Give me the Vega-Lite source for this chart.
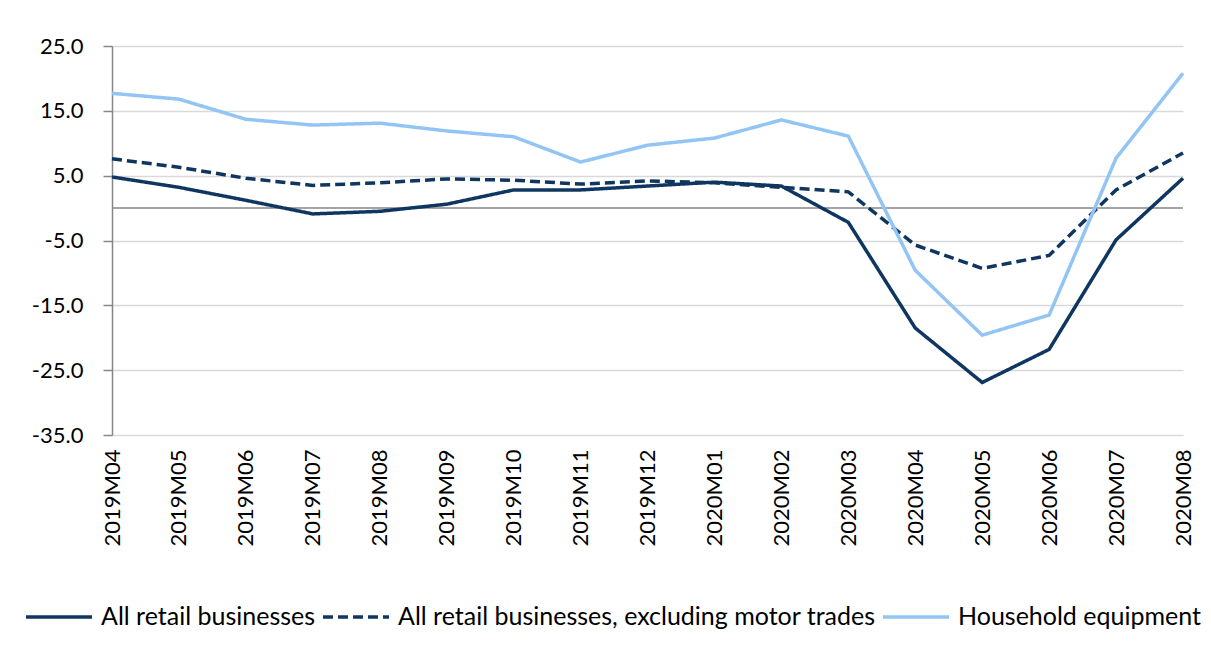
{
  "$schema": "https://vega.github.io/schema/vega-lite/v6.json",
  "width": 1071,
  "height": 389,
  "autosize": "none",
  "padding": {"left": 112, "top": 46, "right": 28, "bottom": 216},
  "background": "white",
  "config": {
    "view": {"stroke": null},
    "font": "Lato",
    "axis": {"labelFont": "Lato", "labelColor": "#000000", "labelFontSize": 22, "titleFont": "Lato"},
    "legend": {"labelFont": "Lato", "labelFontSize": 25, "labelColor": "#000000"}
  },
  "datasets": {
    "series": [
      {"month": "2019M04", "series": "All retail businesses", "value": 4.8},
      {"month": "2019M05", "series": "All retail businesses", "value": 3.2},
      {"month": "2019M06", "series": "All retail businesses", "value": 1.2},
      {"month": "2019M07", "series": "All retail businesses", "value": -0.9},
      {"month": "2019M08", "series": "All retail businesses", "value": -0.5},
      {"month": "2019M09", "series": "All retail businesses", "value": 0.6},
      {"month": "2019M10", "series": "All retail businesses", "value": 2.8},
      {"month": "2019M11", "series": "All retail businesses", "value": 2.8},
      {"month": "2019M12", "series": "All retail businesses", "value": 3.4},
      {"month": "2020M01", "series": "All retail businesses", "value": 4.0},
      {"month": "2020M02", "series": "All retail businesses", "value": 3.4},
      {"month": "2020M03", "series": "All retail businesses", "value": -2.2},
      {"month": "2020M04", "series": "All retail businesses", "value": -18.5},
      {"month": "2020M05", "series": "All retail businesses", "value": -26.9},
      {"month": "2020M06", "series": "All retail businesses", "value": -21.8},
      {"month": "2020M07", "series": "All retail businesses", "value": -4.9},
      {"month": "2020M08", "series": "All retail businesses", "value": 4.6},
      {"month": "2019M04", "series": "All retail businesses, excluding motor trades", "value": 7.6},
      {"month": "2019M05", "series": "All retail businesses, excluding motor trades", "value": 6.3},
      {"month": "2019M06", "series": "All retail businesses, excluding motor trades", "value": 4.6},
      {"month": "2019M07", "series": "All retail businesses, excluding motor trades", "value": 3.5},
      {"month": "2019M08", "series": "All retail businesses, excluding motor trades", "value": 3.9},
      {"month": "2019M09", "series": "All retail businesses, excluding motor trades", "value": 4.5},
      {"month": "2019M10", "series": "All retail businesses, excluding motor trades", "value": 4.3},
      {"month": "2019M11", "series": "All retail businesses, excluding motor trades", "value": 3.7},
      {"month": "2019M12", "series": "All retail businesses, excluding motor trades", "value": 4.2},
      {"month": "2020M01", "series": "All retail businesses, excluding motor trades", "value": 3.9},
      {"month": "2020M02", "series": "All retail businesses, excluding motor trades", "value": 3.2},
      {"month": "2020M03", "series": "All retail businesses, excluding motor trades", "value": 2.5},
      {"month": "2020M04", "series": "All retail businesses, excluding motor trades", "value": -5.7},
      {"month": "2020M05", "series": "All retail businesses, excluding motor trades", "value": -9.3},
      {"month": "2020M06", "series": "All retail businesses, excluding motor trades", "value": -7.3},
      {"month": "2020M07", "series": "All retail businesses, excluding motor trades", "value": 2.8},
      {"month": "2020M08", "series": "All retail businesses, excluding motor trades", "value": 8.5},
      {"month": "2019M04", "series": "Household equipment", "value": 17.7},
      {"month": "2019M05", "series": "Household equipment", "value": 16.8},
      {"month": "2019M06", "series": "Household equipment", "value": 13.7},
      {"month": "2019M07", "series": "Household equipment", "value": 12.8},
      {"month": "2019M08", "series": "Household equipment", "value": 13.1},
      {"month": "2019M09", "series": "Household equipment", "value": 11.9},
      {"month": "2019M10", "series": "Household equipment", "value": 11.0},
      {"month": "2019M11", "series": "Household equipment", "value": 7.1},
      {"month": "2019M12", "series": "Household equipment", "value": 9.7},
      {"month": "2020M01", "series": "Household equipment", "value": 10.8},
      {"month": "2020M02", "series": "Household equipment", "value": 13.6},
      {"month": "2020M03", "series": "Household equipment", "value": 11.1},
      {"month": "2020M04", "series": "Household equipment", "value": -9.6},
      {"month": "2020M05", "series": "Household equipment", "value": -19.6},
      {"month": "2020M06", "series": "Household equipment", "value": -16.5},
      {"month": "2020M07", "series": "Household equipment", "value": 7.7},
      {"month": "2020M08", "series": "Household equipment", "value": 20.8}
    ],
    "zero": [{"v": 0}]
  },
  "layer": [
    {
      "data": {"name": "zero"},
      "mark": {"type": "rule", "color": "#868686", "strokeWidth": 1.5},
      "encoding": {"y": {"field": "v", "type": "quantitative", "scale": {"domain": [-35, 25], "nice": false, "zero": false}}}
    },
    {
      "data": {"name": "series"},
      "mark": {"type": "line", "strokeWidth": 3.5, "strokeCap": "butt", "strokeJoin": "miter"},
      "encoding": {
        "x": {
          "field": "month", "type": "ordinal", "sort": null,
          "scale": {"type": "point", "padding": 0},
          "axis": {"title": null, "labelAngle": -90, "domain": false, "ticks": false, "labelPadding": 14, "grid": false}
        },
        "y": {
          "field": "value", "type": "quantitative",
          "scale": {"domain": [-35, 25], "nice": false, "zero": false},
          "axis": {
            "title": null,
            "values": [-35, -25, -15, -5, 5, 15, 25],
            "labelExpr": "replace(format(datum.value, '.1f'), '−', '-')",
            "grid": true, "gridColor": "#d9d9d9", "gridWidth": 1.5,
            "domain": true, "domainColor": "#868686", "domainWidth": 1.5,
            "ticks": true, "tickColor": "#868686", "tickSize": 9, "tickWidth": 1.5,
            "labelPadding": 20
          }
        },
        "color": {
          "field": "series", "type": "nominal",
          "scale": {
            "domain": ["All retail businesses", "All retail businesses, excluding motor trades", "Household equipment"],
            "range": ["#0e3660", "#0e3660", "#93c5f4"]
          },
          "legend": {
            "title": null, "orient": "none", "direction": "horizontal",
            "legendX": -88, "legendY": 536,
            "symbolType": "stroke", "symbolSize": 4356, "symbolStrokeWidth": 3.5,
            "labelOffset": 7, "columnPadding": 0, "labelLimit": 700
          }
        },
        "strokeDash": {
          "field": "series", "type": "nominal",
          "scale": {
            "domain": ["All retail businesses", "All retail businesses, excluding motor trades", "Household equipment"],
            "range": [[1, 0], [10, 5], [1, 0]]
          },
          "legend": null
        }
      }
    }
  ]
}
